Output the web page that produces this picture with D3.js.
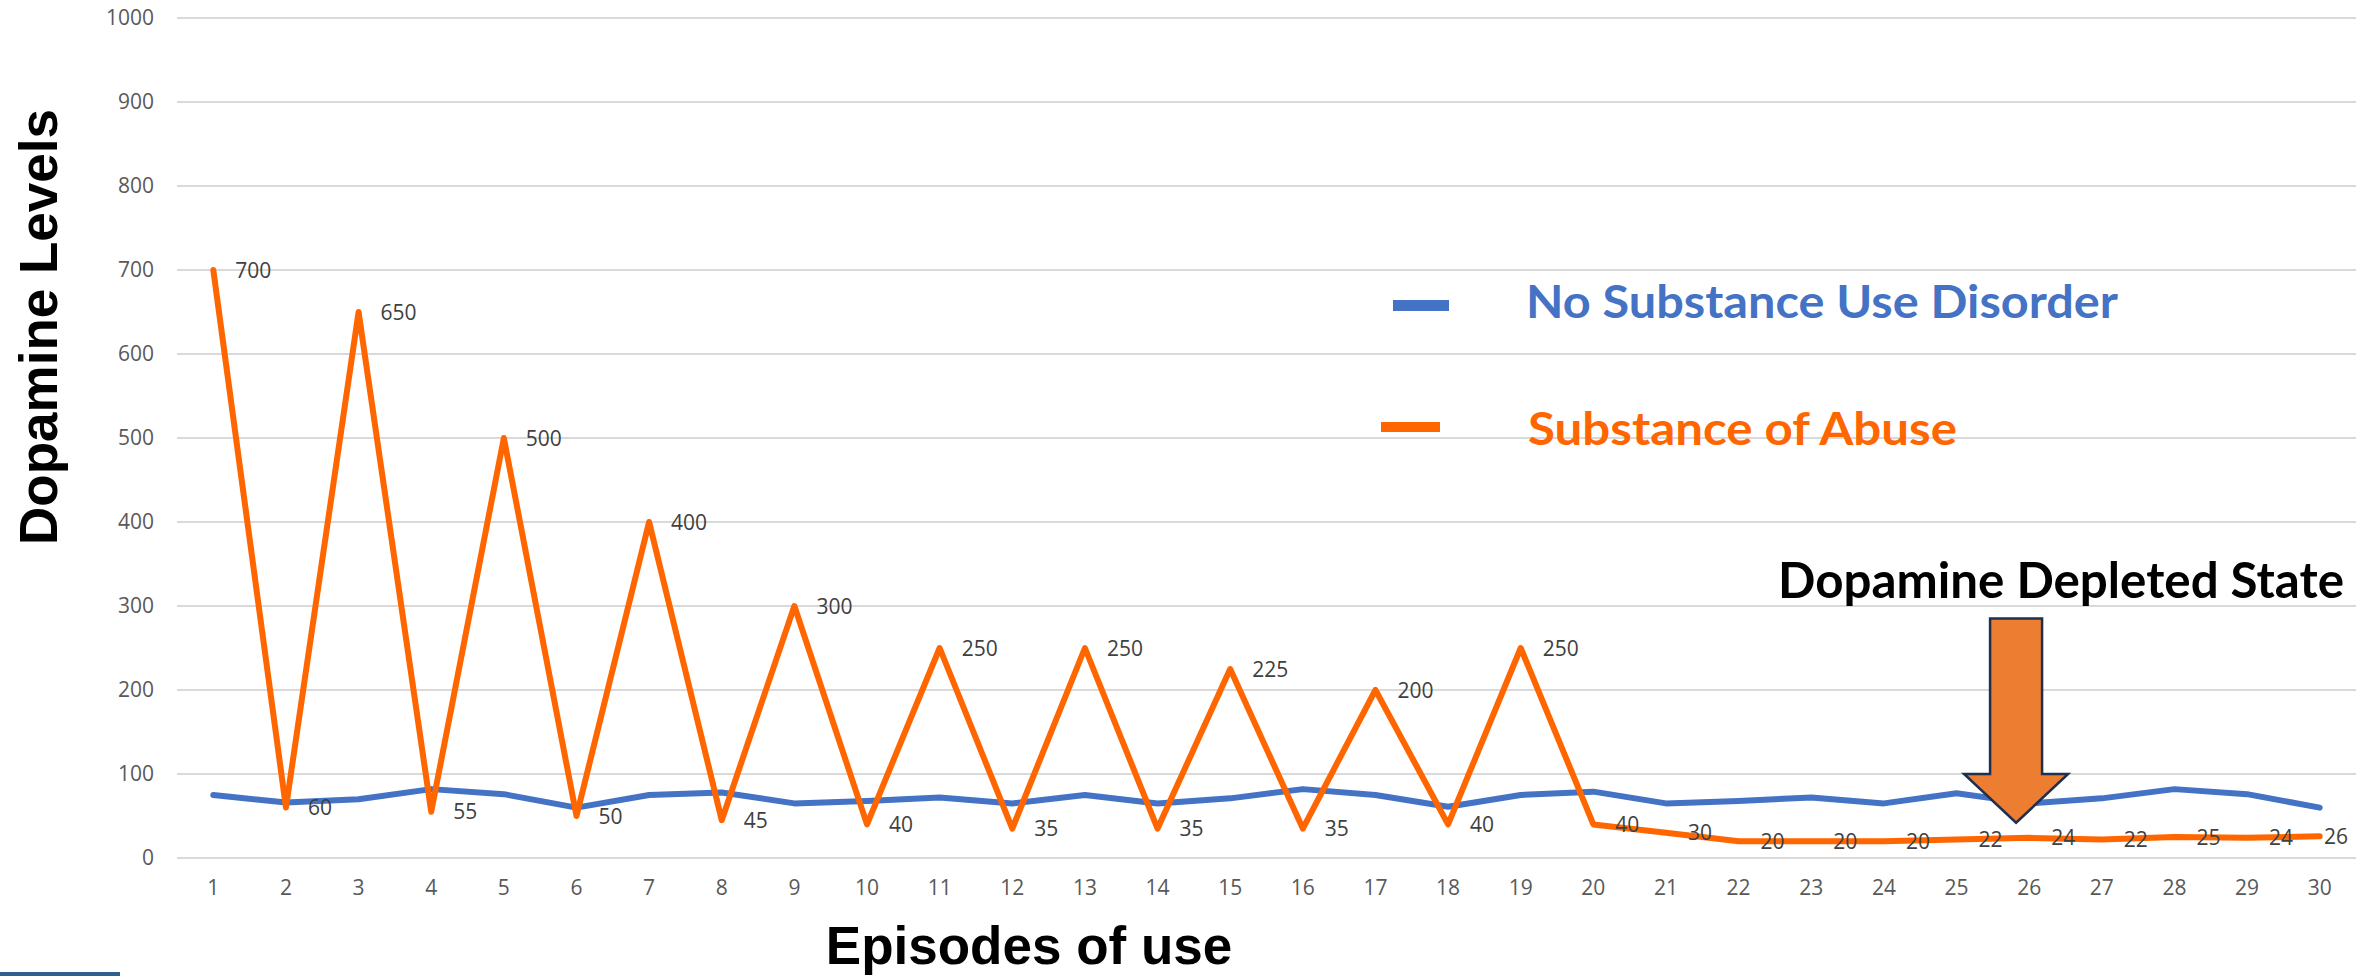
<!DOCTYPE html>
<html>
<head>
<meta charset="utf-8">
<script src="https://cdn.jsdelivr.net/npm/d3@7"></script>
<style>
  html, body { margin: 0; padding: 0; background: #ffffff; }
  svg { display: block; }
</style>
</head>
<body>
<svg id="chart" width="2376" height="976"></svg>
<script>
// Episodes of use (category axis)
const episodes = d3.range(1, 31).map(String);

// Dopamine levels per episode
const noDisorder = [75, 66, 70, 82, 76, 60, 75, 78, 65, 68, 72, 65, 75, 65, 71, 82, 75, 61, 75, 79, 65, 68, 72, 65, 77, 65, 71, 82, 76, 60];
const substanceOfAbuse = [700, 60, 650, 55, 500, 50, 400, 45, 300, 40, 250, 35, 250, 35, 225, 35, 200, 40, 250, 40, 30, 20, 20, 20, 22, 24, 22, 25, 24, 26];

// Value axis ticks
const yTicks = [0, 100, 200, 300, 400, 500, 600, 700, 800, 900, 1000];

const seriesNames = ["No Substance Use Disorder", "Substance of Abuse"];
const seriesColors = ["#4472C4", "#FF6600"];

const svg = d3.select("#chart");
const W = 2376, H = 976;
const plot = { left: 177, right: 2356, top: 18, bottom: 858 };

svg.append("rect").attr("width", W).attr("height", H).attr("fill", "#ffffff");

const x = d3.scaleBand().domain(episodes).range([plot.left, plot.right]);
const cx = d => x(d) + x.bandwidth() / 2;
const y = d3.scaleLinear().domain([0, 1000]).range([plot.bottom, plot.top]);

// Horizontal gridlines
svg.append("g").selectAll("line").data(yTicks).join("line")
  .attr("x1", plot.left).attr("x2", plot.right)
  .attr("y1", d => y(d)).attr("y2", d => y(d))
  .attr("stroke", "#D9D9D9").attr("stroke-width", 2);

// Y axis labels
const yAxis = svg.append("g")
  .attr("transform", `translate(${plot.left},0)`)
  .call(d3.axisLeft(y).tickValues(yTicks).tickFormat(d3.format("d")).tickSize(0).tickPadding(23));
yAxis.select(".domain").remove();
yAxis.selectAll("text")
  .attr("font-family", "'Open Sans', sans-serif")
  .attr("font-size", 21)
  .attr("fill", "#595959");

// X axis labels
const xAxis = svg.append("g")
  .attr("transform", `translate(0,${plot.bottom})`)
  .call(d3.axisBottom(x).tickSize(0).tickPadding(22));
xAxis.select(".domain").remove();
xAxis.selectAll("text")
  .attr("font-family", "'Open Sans', sans-serif")
  .attr("font-size", 21)
  .attr("fill", "#595959");

// Series lines
const line = d3.line().x((d, i) => cx(episodes[i])).y(d => y(d));
[noDisorder, substanceOfAbuse].forEach((vals, k) => {
  svg.append("path")
    .datum(vals)
    .attr("d", line)
    .attr("fill", "none")
    .attr("stroke", seriesColors[k])
    .attr("stroke-width", 6)
    .attr("stroke-linejoin", "round")
    .attr("stroke-linecap", "round");
});

// Value labels for the substance series, placed to the right of each point
const labels = svg.append("g").selectAll("text").data(substanceOfAbuse).join("text")
  .attr("font-family", "'Open Sans', sans-serif")
  .attr("font-size", 21)
  .attr("fill", "#404040")
  .attr("y", d => y(d))
  .attr("dy", "0.36em")
  .text(d => d);
labels.each(function(d, i) {
  const w = this.getComputedTextLength();
  const lx = Math.min(cx(episodes[i]) + 22, plot.right - w - 8);
  d3.select(this).attr("x", lx);
});

// Legend
const legend = [
  { name: seriesNames[0], color: seriesColors[0], sx: 1393, sw: 56, sy: 300, sh: 11, tx: 1526, ty: 318, len: 592 },
  { name: seriesNames[1], color: seriesColors[1], sx: 1381, sw: 59, sy: 422, sh: 10, tx: 1528, ty: 445, len: 429 }
];
const lg = svg.append("g");
legend.forEach(l => {
  lg.append("rect").attr("x", l.sx).attr("y", l.sy).attr("width", l.sw).attr("height", l.sh).attr("fill", l.color);
  lg.append("text")
    .attr("x", l.tx).attr("y", l.ty)
    .attr("font-family", "Lato, sans-serif")
    .attr("font-weight", 700)
    .attr("font-size", 46)
    .attr("fill", l.color)
    .attr("textLength", l.len)
    .attr("lengthAdjust", "spacingAndGlyphs")
    .text(l.name);
});

// Annotation: depleted state arrow
const step = x.step();
const tipX = cx("26") - 0.18 * step;
const tipY = y(42);
const shaftTop = y(285);
const headTop = y(100);
const shaftHalf = 26, headHalf = 52;
svg.append("path")
  .attr("d", [
    [tipX - shaftHalf, shaftTop], [tipX + shaftHalf, shaftTop],
    [tipX + shaftHalf, headTop], [tipX + headHalf, headTop],
    [tipX, tipY], [tipX - headHalf, headTop],
    [tipX - shaftHalf, headTop]
  ].map((p, i) => (i ? "L" : "M") + p[0] + "," + p[1]).join("") + "Z")
  .attr("fill", "#ED7D31")
  .attr("stroke", "#1F2F4F")
  .attr("stroke-width", 2.5)
  .attr("stroke-linejoin", "miter");

svg.append("text")
  .attr("x", 1778).attr("y", 598)
  .attr("font-family", "Lato, sans-serif")
  .attr("font-weight", 700)
  .attr("font-size", 49)
  .attr("fill", "#000000")
  .attr("textLength", 566)
  .attr("lengthAdjust", "spacingAndGlyphs")
  .text("Dopamine Depleted State");

// Axis titles
svg.append("text")
  .attr("transform", "translate(57,327) rotate(-90)")
  .attr("text-anchor", "middle")
  .attr("font-family", "'Liberation Sans', Arial, sans-serif")
  .attr("font-weight", 700)
  .attr("font-size", 53)
  .attr("fill", "#000000")
  .text("Dopamine Levels");

svg.append("text")
  .attr("x", 1029).attr("y", 964)
  .attr("text-anchor", "middle")
  .attr("font-family", "'Liberation Sans', Arial, sans-serif")
  .attr("font-weight", 700)
  .attr("font-size", 53)
  .attr("fill", "#000000")
  .text("Episodes of use");

// Footer accent bar
svg.append("rect").attr("x", 0).attr("y", 972).attr("width", 120).attr("height", 4).attr("fill", "#2E5F8F");
</script>
</body>
</html>
